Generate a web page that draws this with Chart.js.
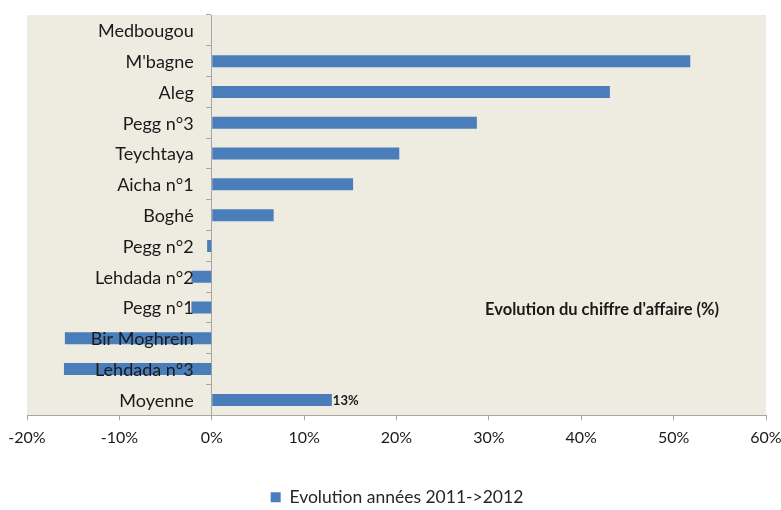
<!DOCTYPE html>
<html>
<head>
<meta charset="utf-8">
<script src="https://cdn.jsdelivr.net/npm/chart.js@4/dist/chart.umd.min.js"></script>
<style>
  html, body { margin: 0; padding: 0; background: #fff; }
  #wrap { width: 781px; height: 510px; }
</style>
</head>
<body>
<div id="wrap"><canvas id="ca"></canvas></div>
<script>
var sites = ["Medbougou", "M'bagne", "Aleg", "Pegg n°3", "Teychtaya", "Aicha n°1", "Boghé",
             "Pegg n°2", "Lehdada n°2", "Pegg n°1", "Bir Moghrein", "Lehdada n°3", "Moyenne"];
var evolution = [0, 51.8, 43.1, 28.7, 20.3, 15.3, 6.7, -0.5, -2.2, -2.2, -15.9, -16.0, 13];
var xTicks = [-20, -10, 0, 10, 20, 30, 40, 50, 60];
var seriesName = "Evolution années 2011->2012";
var noteText = "Evolution du chiffre d'affaire (%)";
var labelledSite = "Moyenne";

var FONT = "Lato, 'Open Sans', sans-serif";
var BAR = '#4a7ebb';
var AXIS = '#a6a6a6';
var INK = '#1a1a1a';

// beige plot area behind the bars
var plotBackground = {
	id: 'plotBackground',
	beforeDraw: function (chart) {
		var a = chart.chartArea, ctx = chart.ctx;
		ctx.save();
		ctx.fillStyle = '#eeece1';
		ctx.fillRect(a.left, a.top, a.right - a.left, a.bottom - a.top);
		ctx.restore();
	}
};

// category names sit left of the zero line, over the negative bars
var siteLabels = {
	id: 'siteLabels',
	afterDatasetsDraw: function (chart) {
		var ctx = chart.ctx, y = chart.scales.y, x0 = chart.scales.x.getPixelForValue(0);
		ctx.save();
		ctx.font = '18px ' + FONT;
		ctx.fillStyle = INK;
		ctx.textAlign = 'right';
		ctx.textBaseline = 'middle';
		sites.forEach(function (s, i) {
			ctx.fillText(s, x0 - 18, y.getPixelForTick(i) + 1);
		});

		// value on the average bar
		var i = sites.indexOf(labelledSite);
		var bar = chart.getDatasetMeta(0).data[i];
		ctx.font = 'bold 13px ' + FONT;
		ctx.textAlign = 'left';
		ctx.fillText(Math.round(evolution[i]) + '%', bar.x + 1, bar.y + 1);

		// chart note
		var a = chart.chartArea;
		ctx.font = 'bold 16.5px ' + FONT;
		ctx.fillText(noteText, a.left + 458, a.top + 295);
		ctx.restore();
	}
};

new Chart(document.getElementById('ca'), {
	type: 'bar',
	data: {
		labels: sites,
		datasets: [{
			label: seriesName,
			data: evolution,
			backgroundColor: BAR,
			borderWidth: 0,
			barPercentage: 0.78,
			categoryPercentage: 0.5
		}]
	},
	options: {
		indexAxis: 'y',
		responsive: true,
		maintainAspectRatio: false,
		animation: false,
		layout: { padding: { top: 15, left: 27, right: 14, bottom: -6 } },
		scales: {
			x: {
				min: -20,
				max: 60,
				afterBuildTicks: function (scale) {
					scale.ticks = xTicks.map(function (v) { return { value: v }; });
				},
				// room between the tick labels and the legend, and let "60%" hang over the edge
				afterFit: function (scale) {
					scale.height += 17;
					scale.paddingRight = 15;
				},
				grid: { drawOnChartArea: false, tickLength: 5, color: AXIS },
				border: { color: AXIS },
				ticks: {
					color: INK,
					font: { family: FONT, size: 16 },
					padding: 8,
					callback: function (v) { return v + '%'; }
				}
			},
			y: {
				position: { x: 0 },
				grid: { drawOnChartArea: false, tickLength: 5, color: AXIS, offset: true },
				border: { color: AXIS },
				ticks: { display: false }
			}
		},
		plugins: {
			legend: {
				position: 'bottom',
				labels: {
					boxWidth: 10,
					boxHeight: 10,
					padding: 16,
					color: '#262626',
					font: { family: FONT, size: 17.5 }
				}
			},
			tooltip: { enabled: false }
		}
	},
	plugins: [plotBackground, siteLabels]
});
</script>
</body>
</html>
